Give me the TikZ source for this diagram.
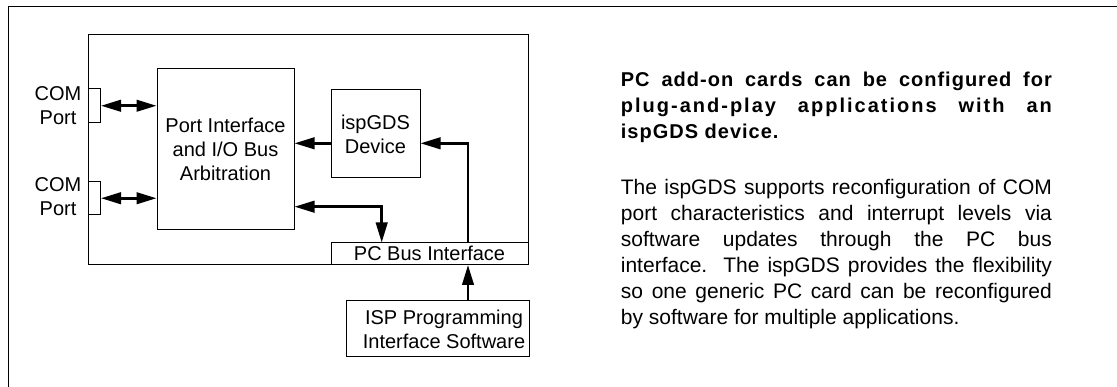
\documentclass[tikz,border=0pt]{standalone}
\usepackage{fontspec}
\setmainfont{Liberation Sans}
\usetikzlibrary{arrows.meta}
\begin{document}
\begin{tikzpicture}[x=1pt,y=-1pt,
  box/.style={draw, line width=1pt, inner sep=0pt, align=center, font=\fontsize{20}{24}\selectfont},
  arr/.style={line width=2.6pt, -{Triangle[length=20pt,width=11.5pt]}},
  dbl/.style={line width=2.6pt, {Triangle[length=20pt,width=11.5pt]}-{Triangle[length=20pt,width=11.5pt]}},
  lbl/.style={inner sep=0pt, align=center, font=\fontsize{20}{24}\selectfont},
  head/.style={anchor=base west, inner sep=0pt, font=\fontsize{20}{26}\selectfont\bfseries},
  body/.style={anchor=base west, inner sep=0pt, font=\fontsize{21}{26}\selectfont},
  frame/.style={line width=1.3pt}]
\fill[white] (0,0) rectangle (1117,387);
\useasboundingbox (0,0) rectangle (1117,387);
\draw[frame] (8.5,387) -- (8.5,6.5) -- (1117,6.5);

% boxes
\node[box, minimum width=440pt, minimum height=230pt] (card) at (308,150) {};
\node[box, minimum width=137pt, minimum height=161pt] (pi) at (225.5,149.5) {Port Interface\\and I/O Bus\\Arbitration};
\node[box, minimum width=89pt, minimum height=88pt] (gds) at (375.5,134) {ispGDS\\Device};
\node[box, fill=white, minimum width=197pt, minimum height=21.5pt] (pcb) at (429.5,253.75) {PC Bus Interface};
\node[box, minimum width=183pt, minimum height=56pt] (sw) at (437.5,329) {};
\node[lbl] (swt) at (444,329) {ISP Programming\\Interface Software};
\node[box, minimum width=12.5pt, minimum height=33.5pt] (c1) at (94.25,105.75) {};
\node[box, minimum width=12.5pt, minimum height=32.5pt] (c2) at (94.25,198.25) {};
\node[lbl] (l1) at (58,106) {COM\\Port};
\node[lbl] (l2) at (58,197) {COM\\Port};

% connectors
\path ([yshift=-9.3pt]gds.west) coordinate (gw);
\path ([yshift=-9.3pt]gds.east) coordinate (ge);
\coordinate (vx) at (468,0);
\coordinate (hx) at (381.7,206.7);
\draw[dbl] (c1.east) -- (pi.west |- c1.east);
\draw[dbl] (c2.east) -- (pi.west |- c2.east);
\draw[arr] (gw) -- (pi.east |- gw);
\draw[arr] (pcb.north -| vx) |- (ge);
\draw[arr] (sw.north -| vx) -- (pcb.south -| vx);
\draw[dbl] (pi.east |- hx) -| (pcb.north -| hx);

% text
\node[head] (h1) at (620.7,87) {\addfontfeature{LetterSpace=5}\makebox[431pt][s]{PC add-on cards can be configured for}};
\node[head] (h2) at (620.7,113) {\addfontfeature{LetterSpace=10}\makebox[431pt][s]{plug-and-play applications with an}};
\node[head] (h3) at (620.7,139) {\addfontfeature{LetterSpace=5}ispGDS device.};
\node[body] (b1) at (620.7,195) {\makebox[431pt][s]{The ispGDS supports reconfiguration of COM}};
\node[body] (b2) at (620.7,220.9) {\makebox[431pt][s]{port characteristics and interrupt levels via}};
\node[body] (b3) at (620.7,246.8) {\makebox[431pt][s]{software updates through the PC bus}};
\node[body] (b4) at (620.7,272.7) {\makebox[431pt][s]{interface.\ \ The ispGDS provides the flexibility}};
\node[body] (b5) at (620.7,298.6) {\makebox[431pt][s]{so one generic PC card can be reconfigured}};
\node[body] (b6) at (620.7,324.5) {by software for multiple applications.};
\end{tikzpicture}
\end{document}
